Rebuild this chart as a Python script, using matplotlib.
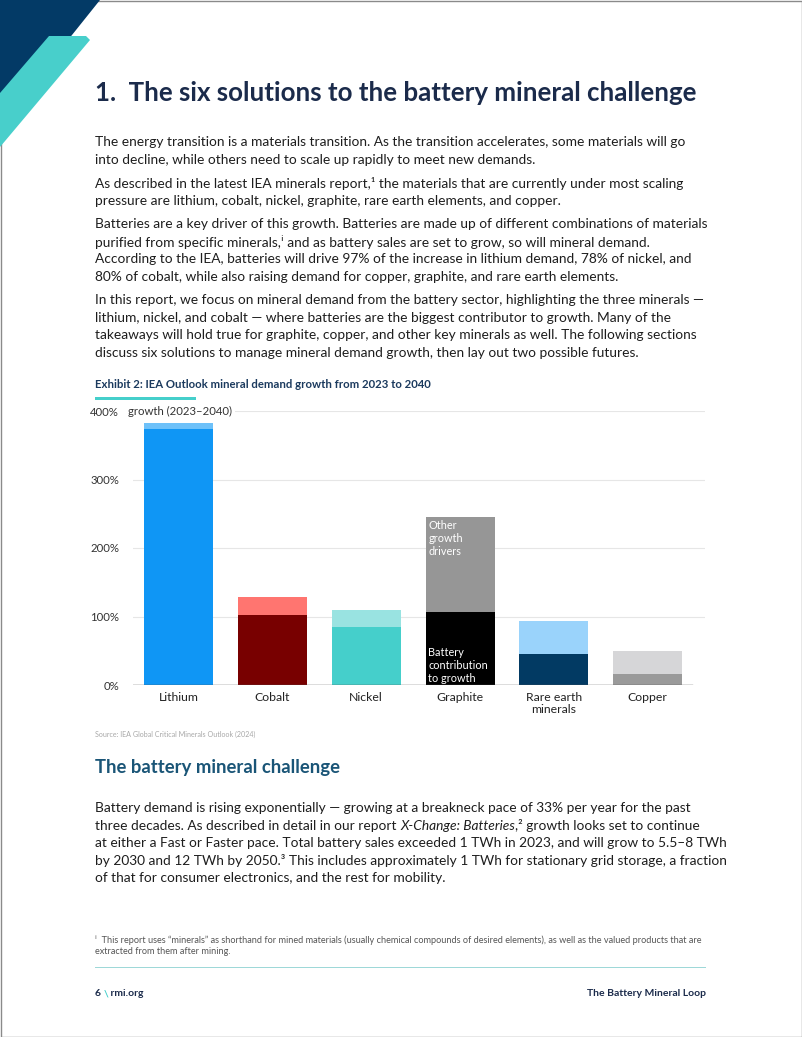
import matplotlib
matplotlib.use('Agg')
import matplotlib.pyplot as plt
from matplotlib.transforms import Affine2D
from matplotlib.patches import Polygon, Rectangle
import numpy as np

W, H = 802, 1037

# chart data (percent growth 2023-2040)
minerals = ['Lithium', 'Cobalt', 'Nickel', 'Graphite', 'Rare earth\nminerals', 'Copper']
battery_growth = [373, 102, 85, 106, 45, 16]
other_growth = [10, 26, 24, 139, 48, 34]
battery_colors = ['#0F96F5', '#780000', '#45CFCB', '#000000', '#023A63', '#9A9A9A']
other_colors = ['#6EC1F9', '#FF7570', '#99E3E1', '#969696', '#9AD3FB', '#D6D6D8']
yticks = [0, 100, 200, 300, 400]
ytick_labels = ['0%', '100%', '200%', '300%', '400%']

NAVY = '#1B2B4B'
TEXT = '#1E1E1E'
FONT = ['Lato', 'DejaVu Sans']

fig = plt.figure(figsize=(W / 100, H / 100), dpi=100)
pix = Affine2D().scale(1, -1).translate(0, H)  # top-left pixel coords
renderer = fig.canvas.get_renderer()


def width_of(s, size, **kw):
    t = fig.text(0, 0, s, fontsize=size, family=FONT, **kw)
    w = t.get_window_extent(renderer).width
    t.remove()
    return w


def fit(s, target, **kw):
    return 10 * target / width_of(s, 10, **kw)


def line(x, y, s, size, **kw):
    kw.setdefault('color', TEXT)
    fig.text(x, y, s, fontsize=size, family=FONT, transform=pix, va='center', **kw)


def runs(x, y, parts, size):
    for s, kw in parts:
        kw = dict(kw)
        kw.setdefault('color', TEXT)
        t = fig.text(x, y, s, fontsize=size, family=FONT, transform=pix, va='center', **kw)
        x += t.get_window_extent(renderer).width


# page frame and corner decoration
fig.patches.append(Rectangle((0.5, 0.5), W - 1, H - 1, transform=pix, fill=False,
                             ec='#8A8A8A', lw=1))
fig.patches.append(Polygon([(0, 0), (100, 0), (0, 125)], closed=True, transform=pix,
                           fc='#033A66', ec='none'))
fig.patches.append(Polygon([(49, 36), (86, 36), (90, 40), (0, 147), (0, 93)], closed=True,
                           transform=pix, fc='#48CFCB', ec='none', joinstyle='round'))

# heading
title = '1.  The six solutions to the battery mineral challenge'
line(95, 93, title, fit(title, 602, weight='bold'), weight='bold', color=NAVY)

body_ref = 'The energy transition is a materials transition. As the transition accelerates, some materials will go'
bs = fit(body_ref, 589)

paras = [
    (142, ['The energy transition is a materials transition. As the transition accelerates, some materials will go',
           'into decline, while others need to scale up rapidly to meet new demands.']),
    (183, ['As described in the latest IEA minerals report,\u00b9 the materials that are currently under most scaling',
           'pressure are lithium, cobalt, nickel, graphite, rare earth elements, and copper.']),
    (224, ['Batteries are a key driver of this growth. Batteries are made up of different combinations of materials',
           'purified from specific minerals,\u2071 and as battery sales are set to grow, so will mineral demand.',
           'According to the IEA, batteries will drive 97% of the increase in lithium demand, 78% of nickel, and',
           '80% of cobalt, while also raising demand for copper, graphite, and rare earth elements.']),
    (300, ['In this report, we focus on mineral demand from the battery sector, highlighting the three minerals \u2014',
           'lithium, nickel, and cobalt \u2014 where batteries are the biggest contributor to growth. Many of the',
           'takeaways will hold true for graphite, copper, and other key minerals as well. The following sections',
           'discuss six solutions to manage mineral demand growth, then lay out two possible futures.']),
]
for y0, lines in paras:
    for i, s in enumerate(lines):
        line(95, y0 + i * 17.6, s, bs)

# exhibit title
ex = 'Exhibit 2: IEA Outlook mineral demand growth from 2023 to 2040'
line(95, 384, ex, fit(ex, 337, weight='bold'), weight='bold', color='#1B3A5E')
fig.patches.append(Rectangle((95, 396.5), 101, 3, transform=pix, fc='#45CFCB', ec='none'))

# chart
ax = fig.add_axes([133 / W, (H - 685) / H, (705 - 133) / W, (685 - 411) / H])
x = np.arange(len(minerals))
bw = 0.735
ax.bar(x, battery_growth, bw, color=battery_colors, zorder=3)
ax.bar(x, other_growth, bw, bottom=battery_growth, color=other_colors, zorder=3)
ax.set_xlim(-0.485, 5.61)
ax.set_ylim(0, 400)
for v in yticks[1:]:
    ax.axhline(v, color='#E6E6E6', lw=0.8, zorder=1)
ax.axhline(0, xmax=(5.47 + 0.485) / (5.61 + 0.485), color='#555555', lw=1, zorder=4)
for s in ax.spines.values():
    s.set_visible(False)
ax.set_yticks(yticks)
ax.set_yticklabels(ytick_labels, family=FONT, fontsize=8.2, color='#333333')
ax.tick_params(axis='y', length=0, pad=10)
ax.set_xticks(x)
ax.set_xticklabels(minerals, family=FONT, fontsize=8.8, color='#222222', linespacing=1.15)
ax.tick_params(axis='x', length=0, pad=5)
ax.set_facecolor('none')
ax.text(-0.54, 400, 'growth (2023\u20132040)', fontsize=8.2, family=FONT, color='#333333',
        va='center', ha='left', bbox=dict(fc='white', ec='none', pad=2), zorder=5)
gi = minerals.index('Graphite')
ax.text(gi - bw / 2 + 0.03, battery_growth[gi] + other_growth[gi] - 4,
        'Other\ngrowth\ndrivers', color='white', fontsize=7.8, family=FONT,
        va='top', ha='left', linespacing=1.2, zorder=5)
ax.text(gi - bw / 2 + 0.03, 2, 'Battery\ncontribution\nto growth', color='white',
        fontsize=7.8, family=FONT, va='bottom', ha='left', linespacing=1.2, zorder=5)

src = 'Source: IEA Global Critical Minerals Outlook (2024)'
line(95, 734, src, fit(src, 160), color='#A8A8A8')

# sub heading
sub = 'The battery mineral challenge'
line(95, 768, sub, fit(sub, 245, weight='bold'), weight='bold', color='#1A5577')

p5y = 808
line(95, p5y, 'Battery demand is rising exponentially \u2014 growing at a breakneck pace of 33% per year for the past', bs)
runs(95, p5y + 17.6, [('three decades. As described in detail in our report ', {}),
                      ('X-Change: Batteries', {'style': 'italic'}),
                      (',\u00b2 growth looks set to continue', {})], bs)
line(95, p5y + 2 * 17.6, 'at either a Fast or Faster pace. Total battery sales exceeded 1 TWh in 2023, and will grow to 5.5\u20138 TWh', bs)
line(95, p5y + 3 * 17.6, 'by 2030 and 12 TWh by 2050.\u00b3 This includes approximately 1 TWh for stationary grid storage, a fraction', bs)
line(95, p5y + 4 * 17.6, 'of that for consumer electronics, and the rest for mobility.', bs)

# footnote
fn1 = '\u2071  This report uses \u201cminerals\u201d as shorthand for mined materials (usually chemical compounds of desired elements), as well as the valued products that are'
fs = fit(fn1, 612)
line(95, 940, fn1, fs, color='#555555')
line(95, 952, 'extracted from them after mining.', fs, color='#555555')
fig.patches.append(Rectangle((95, 967), 611, 1.4, transform=pix, fc='#9ED8D8', ec='none'))

# footer
foot = 'The Battery Mineral Loop'
ffs = fit(foot, 119, weight='bold')
runs(95, 994, [('6 ', {'weight': 'bold', 'color': NAVY}),
               ('\\', {'weight': 'bold', 'color': '#45CFCB'}),
               (' rmi.org', {'weight': 'bold', 'color': NAVY})], ffs)
line(706, 994, foot, ffs, weight='bold', color=NAVY, ha='right')

fig.savefig('out.png', dpi=100)
